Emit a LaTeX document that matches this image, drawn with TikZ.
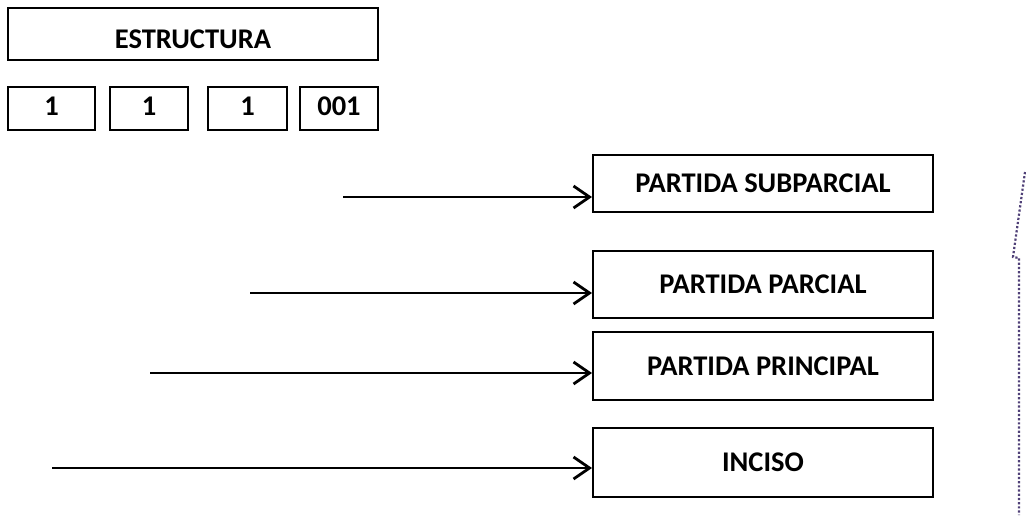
\documentclass[tikz,border=0pt]{standalone}
\usepackage{fontspec}
\setmainfont{Carlito}
\usetikzlibrary{arrows.meta}
\definecolor{punteado}{RGB}{80,65,120}

\begin{document}
\begin{tikzpicture}[x=1pt, y=-1pt,
		caja/.style={draw, rectangle, line width=2pt, inner sep=0pt, font=\bfseries\fontsize{28.5}{32}\selectfont},
		digito/.style={caja, minimum height=43pt, text depth=4pt},
		flecha/.style={-{Straight Barb[length=16pt, width=22pt]}, line width=2.8pt}]
				\useasboundingbox (0,0) rectangle (1026,515);
				\node[caja, minimum width=370pt, minimum height=52pt, text height=29pt] (EST)at(193, 34) {ESTRUCTURA};
				\node[digito, minimum width=87pt] (D1)at(51.5, 108.5) {1};
				\node[digito, minimum width=78pt] (D2)at(149, 108.5) {1};
				\node[digito, minimum width=79pt] (D3)at(247.5, 108.5) {1};
				\node[digito, minimum width=78pt] (D4)at(339, 108.5) {001};
				\node[caja, minimum width=340pt, minimum height=57pt] (SUB)at(763, 183.5) {PARTIDA SUBPARCIAL};
				\node[caja, minimum width=340pt, minimum height=67pt] (PAR)at(763, 284.5) {PARTIDA PARCIAL};
				\node[caja, minimum width=340pt, minimum height=68pt] (PRI)at(763, 366) {PARTIDA PRINCIPAL};
				\node[caja, minimum width=340pt, minimum height=69pt] (INC)at(763, 462.5) {INCISO};
				\coordinate (A1)at(343, 197);
				\coordinate (A2)at(250, 293);
				\coordinate (A3)at(150, 373);
				\coordinate (A4)at(52, 468);
				\draw[flecha] (A1) -- (A1 -| SUB.west);
				\draw[flecha] (A2) -- (A2 -| PAR.west);
				\draw[flecha] (A3) -- (A3 -| PRI.west);
				\draw[flecha] (A4) -- (A4 -| INC.west);
				\draw[punteado, dotted, line width=2.2pt] (1025, 172) -- (1013, 257) -- (1019, 258) -- (1019, 515);
			\end{tikzpicture}
\end{document}
